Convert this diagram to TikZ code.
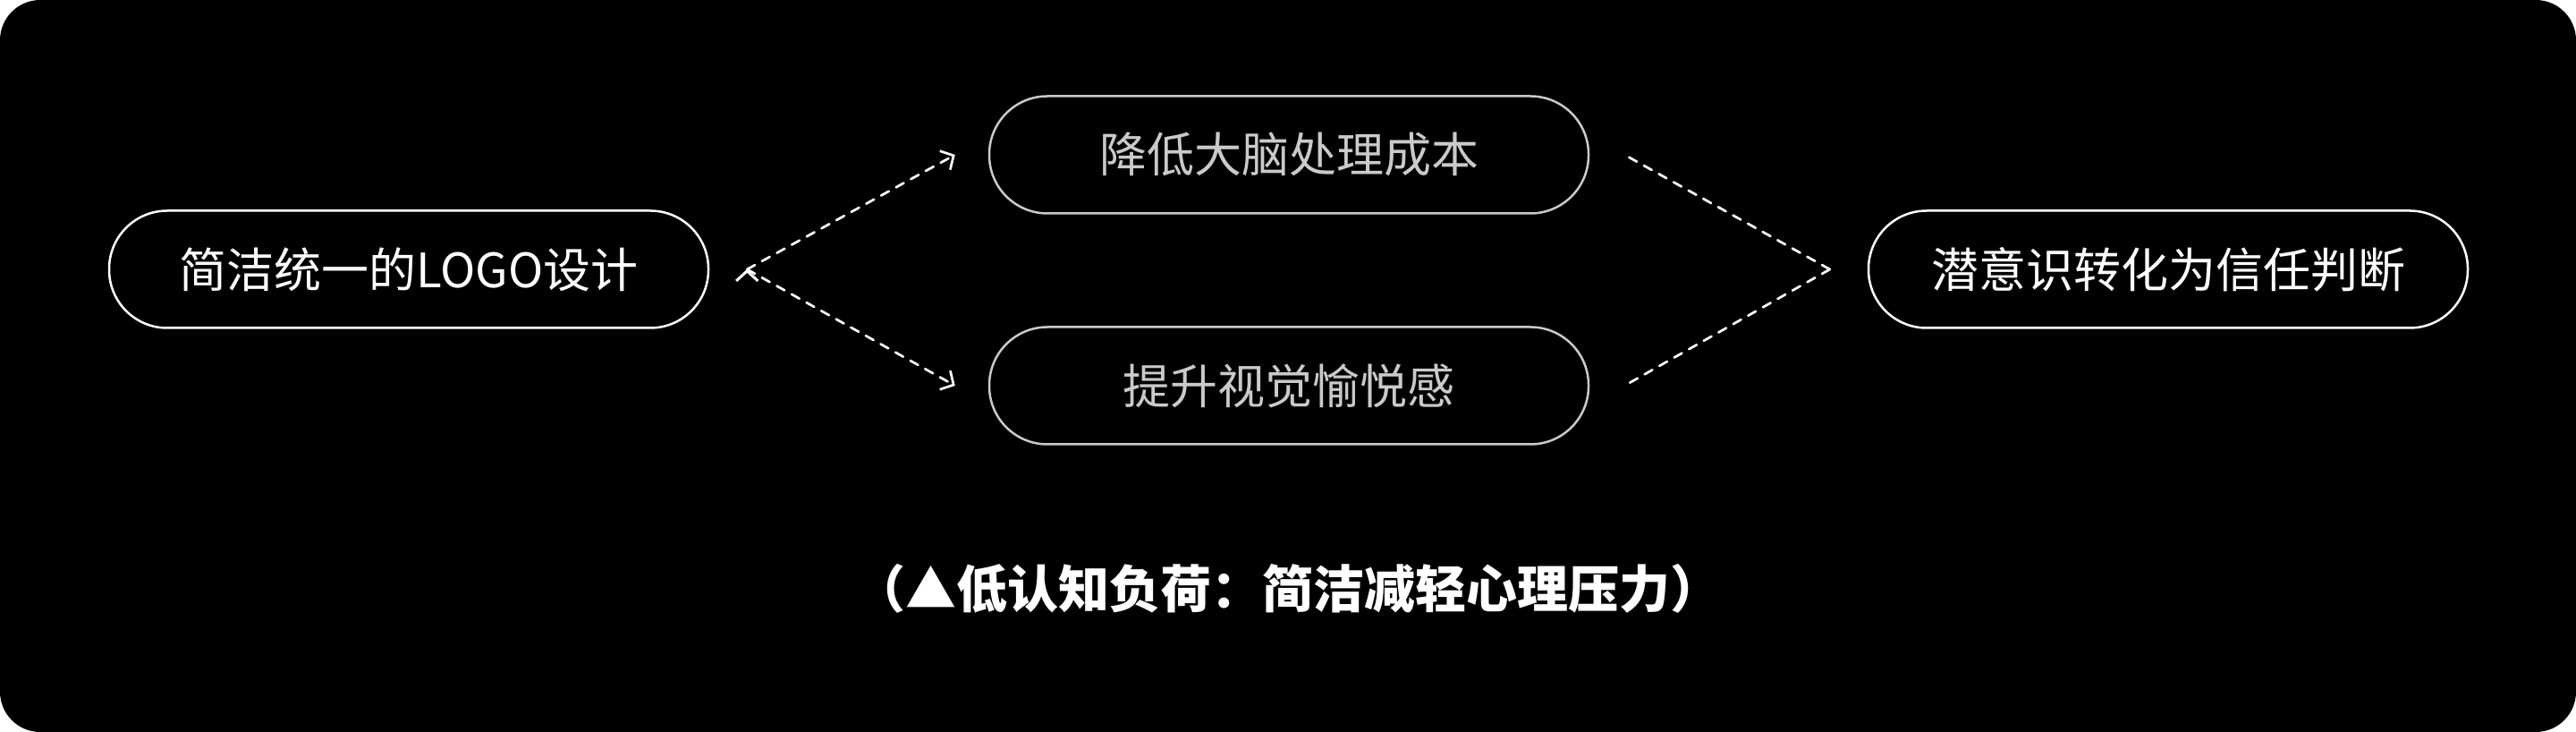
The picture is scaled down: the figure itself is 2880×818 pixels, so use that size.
\documentclass[tikz,border=0pt]{standalone}
\usepackage{fontspec}
\setmainfont{Noto Sans CJK SC}
\usepackage{tikz}
\usetikzlibrary{arrows.meta}
\definecolor{softgray}{HTML}{CACACA}
\tikzstyle{pill}=[draw=white, text=white, line width=2.5pt, rounded corners=65pt, minimum width=670pt, minimum height=131pt, inner sep=0pt, font=\fontsize{53}{60}\selectfont]
\tikzstyle{pillgray}=[pill, draw=softgray, text=softgray]
\tikzstyle{flow}=[draw=white, line width=2.7pt, dash pattern=on 10pt off 9pt, line cap=round]
\tikzstyle{flowarrow}=[flow, -{Straight Barb[length=11pt,width=24pt,line width=2.7pt]}]
\tikzstyle{caption}=[text=white, font=\fontsize{57}{64}\selectfont\bfseries]

\begin{document}
\begin{tikzpicture}[x=1pt,y=1pt]
		   \fill[black, rounded corners=45pt] (0,0) rectangle (2880,818);
		   \useasboundingbox (0,0) rectangle (2880,818);
		   \begin{scope}
			   \node (logo) at (457,517)[pill] {简洁统一的LOGO设计};
			   \node (lower) at (1441,645)[pillgray] {降低大脑处理成本};
			   \node (delight) at (1441,387)[pillgray] {提升视觉愉悦感};
			   \node (trust) at (2424,517)[pill] {潜意识转化为信任判断};
			   \node (note) at (1440,160)[caption] {（▲低认知负荷：简洁减轻心理压力）};
		   \end{scope}
		   \begin{scope}
			   \coordinate (split) at ([xshift=42pt]logo.east);
			   \coordinate (lowerin) at ([xshift=-37pt]lower.west);
			   \coordinate (delightin) at ([xshift=-37pt]delight.west);
			   \coordinate (lowerout) at ([xshift=39pt]lower.east);
			   \coordinate (delightout) at ([xshift=39pt]delight.east);
			   \coordinate (merge) at ([xshift=-42pt]trust.west);
		   \end{scope}
		   \begin{scope}
			   \path [flowarrow] (split) edge (lowerin);
			   \path [flowarrow] (split) edge (delightin);
			   \path [flow] (merge) edge (lowerout);
			   \path [flow] (merge) edge (delightout);
		   \end{scope}
	   \end{tikzpicture}
\end{document}
